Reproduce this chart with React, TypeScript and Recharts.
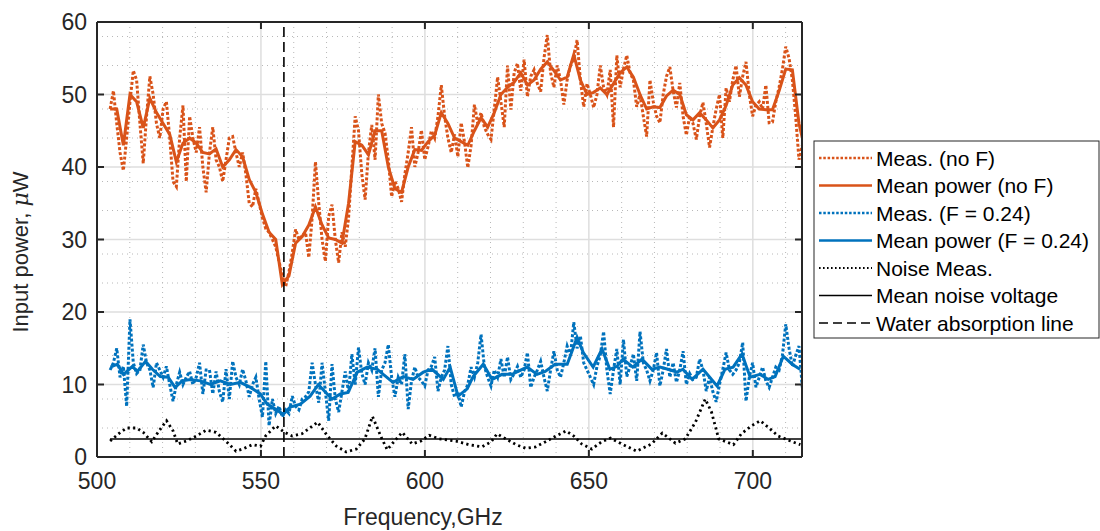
import React from "react"
import {
  LineChart,
  Line,
  XAxis,
  YAxis,
  CartesianGrid,
  ReferenceLine,
} from "recharts"

// measured spectra, one sample per step starting at measStartGHz
const measStartGHz = 504
const measStepGHz = 1.01

const measNoF = [
  48, 50.5, 46, 42, 39.5, 44, 49, 53.3, 52, 46,
  40.5, 47, 52.5, 50, 46, 44, 48, 49, 44, 38,
  37.3, 44, 48.5, 38, 47, 44, 42, 45.5, 40, 36.5,
  42, 45.5, 41, 40, 38, 41, 44, 44.2, 42, 40,
  42, 39, 35, 34.5, 37, 35, 33, 31.5, 31, 30,
  29, 27, 25, 23.5, 25.5, 28.2, 31.4, 30, 30.5, 31,
  27.5, 33, 40.7, 35, 30, 27, 33.2, 34.8, 30, 26.8,
  31, 29, 33, 40, 47, 45, 39, 35.5, 42, 45.8,
  41, 50, 46, 44.7, 41, 35.9, 38, 37, 35.2, 39,
  42, 45.5, 40, 42, 45.1, 41, 42.8, 45, 44, 47,
  51.3, 47, 44, 42, 44.5, 41.4, 46.1, 43.5, 39.9, 43,
  48.6, 46, 47.5, 45.5, 44.5, 43.8, 48, 52.4, 49, 45.5,
  54, 47.9, 53, 54.3, 50.5, 54.8, 49.7, 52.5, 53.4, 51.5,
  50.4, 55, 58.2, 53, 51, 54, 52, 48.6, 52, 54,
  55, 57.5, 52, 48.3, 51.5, 50, 48.2, 50, 54, 51,
  50, 53.4, 45.5, 55.4, 51, 53.5, 55.4, 53, 52, 48.3,
  50, 47, 44.2, 52, 49, 47, 46.1, 50, 52.5, 53.8,
  50.5, 48.2, 51.6, 47, 44.4, 47, 46, 43.8, 47, 48.9,
  46, 42.7, 45.5, 48, 50, 44, 50.9, 49, 52, 54,
  49.7, 52.5, 54.5, 50, 47, 48.5, 49, 48, 51.3, 46.1,
  46.2, 49, 51, 53.5, 56.6, 55, 52, 47, 41, 43,
]

const measF024 = [
  12, 13, 15, 11, 12.5, 7, 19, 13, 11.5, 12,
  15.5, 13, 12, 9.6, 13, 12, 11, 12.5, 10, 7.7,
  10, 11.7, 10, 11, 11.8, 10, 11, 13, 8.7, 12,
  12, 8.7, 11.8, 9, 7.6, 12.1, 8, 13.2, 11, 10,
  12.1, 10.5, 8.3, 10, 11, 8, 5.5, 13.2, 4.3, 8,
  6, 7, 5.5, 6.5, 6, 8.4, 7, 6.5, 8, 8.3,
  9, 13, 10, 7.5, 13, 9, 5, 12.8, 8, 6.2,
  9, 11.8, 9, 14.2, 10, 15.1, 11.5, 10, 13, 12,
  15, 8.3, 12, 13, 15.5, 11, 8.3, 11, 10, 14.2,
  6.6, 10.5, 12.4, 11, 10.5, 9.8, 12, 12.5, 13.8, 9.1,
  11, 12, 15.3, 10, 8.3, 9, 6.9, 9, 10, 12.4,
  11, 13, 16.9, 12.5, 11, 9.8, 12, 11, 13.5, 11,
  13.8, 10.7, 11.5, 12.5, 11, 12, 14.4, 9.6, 11, 12,
  13.2, 11, 9.1, 12, 14.6, 12, 11, 13, 15.3, 14,
  18.6, 15, 16.7, 13, 12, 11, 10, 12.5, 14, 17.3,
  12, 8.7, 12, 14.9, 10, 16.2, 11.1, 12.5, 14.2, 10.5,
  17.3, 13, 12, 10.5, 12, 14.4, 9.8, 12, 14.9, 11,
  13, 10.3, 12, 14.6, 10, 11.5, 10.7, 11, 13.5, 12,
  9.1, 11, 9, 7.6, 10, 12.1, 14.4, 12, 11.4, 12,
  13, 15.8, 7.7, 11, 13, 9.6, 11, 12.4, 10.5, 9.6,
  11, 12.4, 12, 14, 18.3, 15, 12.5, 14, 15.3, 9.6,
]

// mean power (no F), on every second measurement sample plus the last one
const meanNoF = [
  48, 48, 43, 50, 49, 45.4, 49.5, 47.5, 46, 44.5,
  40.7, 43.3, 44, 43.3, 42, 41.8, 42.5, 40, 41, 42.4,
  41.4, 38.3, 36.5, 33.5, 31, 30, 23.8, 25, 29.5, 30.4,
  32, 34.5, 32, 30.2, 30, 29.5, 35, 43.5, 43, 41.7,
  45, 45, 40, 37, 36.5, 40, 42.4, 42.3, 43.5, 44.4,
  47.5, 46, 44, 43.5, 43, 45, 46.8, 45.5, 47.5, 50,
  51, 51.7, 53, 51.3, 52, 53.5, 54.5, 53.3, 52, 52.4,
  55.5, 52, 50, 50.3, 50.9, 50, 51.5, 53, 53.8, 52.4,
  50, 48, 48.3, 48.2, 49.8, 50.6, 50, 47.2, 46.5, 47.5,
  46.5, 45.4, 46.5, 48.5, 51.3, 52.3, 51.3, 49, 48, 47.9,
  47.9, 50.5, 53.5, 53.4, 46, 44,
]

const meanF024Freq = [
  504.1, 506.2, 508.1, 510.8, 512.3, 514.8, 516.9, 519.3, 521.7, 523.8,
  526, 528.5, 531.5, 534.6, 537.6, 540.7, 543.7, 546.8, 549.8, 551.9,
  554.4, 556.8, 558.9, 562, 565, 567.5, 570.2, 571.7, 574.2, 576.6,
  579.4, 582.4, 585.5, 587.3, 590.3, 593.4, 596.4, 599.5, 602.2, 605.6,
  607.7, 610.1, 612.9, 614.7, 617.8, 620.5, 623.5, 626.6, 628.4, 631.2,
  634.2, 636.7, 639.7, 643.4, 646.4, 648.3, 651.3, 654, 656.4, 658.6,
  660.4, 663.4, 666.2, 669.2, 671.7, 674.1, 676.9, 678.7, 681.5, 684.8,
  689.1, 691.5, 694, 696.7, 699.2, 702.2, 704.7, 706.8, 709.3, 712, 714.4,
]
const meanF024 = [
  12.4, 12.8, 11.4, 12.5, 11.8, 13.2, 12.1, 11.1, 11, 9.6,
  10.5, 10.7, 10.5, 10, 10.5, 10, 10.3, 9.6, 8.7, 7.3,
  6.6, 5.9, 6.9, 7.3, 8.4, 10, 8.7, 8, 8.7, 8.9,
  11.7, 12.4, 12.1, 11.4, 10.3, 11.1, 10.7, 11.7, 12.1, 10.7,
  12.4, 8.4, 9.4, 11.1, 12.8, 10.7, 11.4, 11.4, 11.8, 12.4,
  11.4, 11.8, 12.8, 12.8, 16.5, 14.4, 12.4, 14.9, 12.1, 12.5,
  13.5, 12.4, 13.5, 12.1, 12.4, 12.1, 11.7, 12.1, 10.7, 12.1,
  9.8, 12.1, 12.4, 14.2, 11, 11.4, 10.7, 11.1, 13.9, 12.8, 12.1,
]

const noiseFreq = [
  504, 507.1, 509.1, 512.1, 514.1, 516.7, 518.6, 521.2, 523.2, 524.6,
  527.2, 530.3, 533.3, 536.3, 539.3, 542.4, 544.4, 547.4, 549.9, 551.4,
  554.5, 557.2, 559.5, 562.5, 567.3, 570.3, 573, 576, 579.1, 581.7,
  584, 586.7, 588.5, 591.3, 593.1, 596.1, 598.8, 601.3, 604.4, 609.5,
  613.4, 617.4, 620.2, 622, 624.7, 627.8, 630.8, 633.8, 636.8, 640,
  643, 645.4, 647.8, 650.9, 653.9, 656.6, 660, 664.6, 669.1, 672.4,
  676.4, 679.4, 682.5, 685.5, 687.4, 689.6, 694.1, 696.5, 699.6, 702.3,
  704.7, 707.7, 711.5, 714.5,
]
const noiseMeas = [
  2.2, 3.4, 4, 4, 3.4, 2.1, 3.4, 5, 3.6, 1.8,
  2.2, 2.9, 3.7, 3.4, 2.2, 0.8, 1.1, 1.7, 1.5, 2.9,
  4.3, 3.4, 2.9, 3.2, 4.8, 2.9, 1.5, 0.7, 1.1, 2.5,
  5.6, 2.7, 1, 2.5, 3.4, 1.8, 2.2, 3, 2.5, 2.2,
  1.7, 1.4, 2.1, 3.2, 2.5, 1.7, 1.2, 1.4, 2.1, 2.9,
  3.6, 2.9, 1.8, 1.1, 2.1, 2.6, 1.8, 0.8, 1.8, 3.3,
  1.9, 2.5, 4.8, 8, 6.2, 2.5, 1.7, 3.2, 4.3, 5,
  4.1, 2.9, 2.2, 1.7,
]

const meanNoiseLevel = 2.5
const meanNoiseRange = [504, 715]
const waterLineGHz = 557

const xTicks = [500, 550, 600, 650, 700]
const yTicks = [0, 10, 20, 30, 40, 50, 60]
const minorXTicks = [510, 520, 530, 540, 560, 570, 580, 590, 610, 620, 630, 640, 660, 670, 680, 690, 710]
const minorYTicks = [2, 4, 6, 8, 12, 14, 16, 18, 22, 24, 26, 28, 32, 34, 36, 38, 42, 44, 46, 48, 52, 54, 56, 58]

const ORANGE = "#D95319"
const BLUE = "#0072BD"
const AXIS = "#262626"
const FONT = "'Liberation Sans', Arial, Helvetica, sans-serif"
const MEAS_DASH = "3 2"
const NOISE_DASH = "2.2 3.3"

const measFreq = measNoF.map((_, i) => +(measStartGHz + i * measStepGHz).toFixed(2))
const measNoFData = measNoF.map((v, i) => ({ f: measFreq[i], v }))
const measF024Data = measF024.map((v, i) => ({ f: measFreq[i], v }))
const meanNoFData = meanNoF.map((v, i) => ({
  f: measFreq[i === meanNoF.length - 1 ? measFreq.length - 1 : i * 2],
  v,
}))
const meanF024Data = meanF024.map((v, i) => ({ f: meanF024Freq[i], v }))
const noiseData = noiseMeas.map((v, i) => ({ f: noiseFreq[i], v }))
const meanNoiseData = meanNoiseRange.map((f) => ({ f, v: meanNoiseLevel }))

const legendItems = [
  { label: "Meas. (no F)", color: ORANGE, dash: "2.5 1.8", width: 2.6 },
  { label: "Mean power (no F)", color: ORANGE, dash: undefined, width: 2.6 },
  { label: "Meas. (F = 0.24)", color: BLUE, dash: "2.5 1.8", width: 2.6 },
  { label: "Mean power (F = 0.24)", color: BLUE, dash: undefined, width: 2.6 },
  { label: "Noise Meas.", color: "#000", dash: "1.6 2.4", width: 2 },
  { label: "Mean noise voltage", color: "#000", dash: undefined, width: 1.3 },
  { label: "Water absorption line", color: "#000", dash: "9 5", width: 1.3 },
]

function Legend() {
  return (
    <svg
      width={287}
      height={199}
      style={{ position: "absolute", left: 813, top: 140 }}
    >
      <rect x={1} y={1} width={285} height={197} fill="#fff" stroke={AXIS} strokeWidth={1} />
      {legendItems.map((item, i) => {
        const cy = 18 + i * 27.5
        return (
          <g key={item.label}>
            <line
              x1={6}
              x2={59}
              y1={cy}
              y2={cy}
              stroke={item.color}
              strokeWidth={item.width}
              strokeDasharray={item.dash}
            />
            <text
              x={63}
              y={cy}
              dominantBaseline="central"
              fontSize={21}
              fontFamily={FONT}
              fill="#000"
            >
              {item.label}
            </text>
          </g>
        )
      })}
    </svg>
  )
}

function AxisLabels() {
  return (
    <svg
      width={1100}
      height={531}
      style={{ position: "absolute", left: 0, top: 0, pointerEvents: "none" }}
    >
      <text
        x={423}
        y={525}
        textAnchor="middle"
        fontSize={23}
        fontFamily={FONT}
        fill={AXIS}
      >
        Frequency,GHz
      </text>
      <text
        transform="translate(28 252) rotate(-90)"
        textAnchor="middle"
        fontSize={22}
        fontFamily={FONT}
        fill={AXIS}
      >
        Input power,{" "}
        <tspan fontStyle="italic" fontFamily="'DejaVu Serif', serif">
          μ
        </tspan>
        W
      </text>
    </svg>
  )
}

const tickStyle = { fontSize: 23, fill: AXIS, fontFamily: FONT }
const axisLineStyle = { stroke: AXIS, strokeWidth: 2 }
const tickLineStyle = { stroke: AXIS, strokeWidth: 2 }

export default function App() {
  return (
    <div style={{ position: "absolute", left: 0, top: 0, width: 1100, height: 531, background: "#fff" }}>
      <LineChart
        width={1100}
        height={531}
        margin={{ top: 21, right: 297, left: 37, bottom: 34 }}
      >
        <CartesianGrid
          horizontalValues={minorYTicks}
          verticalValues={minorXTicks}
          stroke="#b8b8b8"
          strokeDasharray="1 4"
          strokeWidth={1}
        />
        <CartesianGrid stroke="#dedede" strokeWidth={1.5} />
        <XAxis
          type="number"
          dataKey="f"
          domain={[500, 715]}
          ticks={xTicks}
          allowDataOverflow
          height={40}
          tick={tickStyle}
          tickSize={-7}
          tickMargin={23}
          axisLine={axisLineStyle}
          tickLine={tickLineStyle}
        />
        <XAxis
          xAxisId="top"
          orientation="top"
          type="number"
          dataKey="f"
          domain={[500, 715]}
          ticks={xTicks}
          allowDataOverflow
          height={1}
          tick={() => null}
          tickSize={-7}
          axisLine={axisLineStyle}
          tickLine={tickLineStyle}
        />
        <YAxis
          type="number"
          domain={[0, 60]}
          ticks={yTicks}
          allowDataOverflow
          width={60}
          tick={tickStyle}
          tickSize={-7}
          tickMargin={17}
          axisLine={axisLineStyle}
          tickLine={tickLineStyle}
        />
        <YAxis
          yAxisId="right"
          orientation="right"
          type="number"
          domain={[0, 60]}
          ticks={yTicks}
          allowDataOverflow
          width={1}
          tick={() => null}
          tickSize={-7}
          axisLine={axisLineStyle}
          tickLine={tickLineStyle}
        />
        <Line
          data={measNoFData}
          dataKey="v"
          stroke={ORANGE}
          strokeWidth={3}
          strokeDasharray={MEAS_DASH}
          dot={false}
          isAnimationActive={false}
        />
        <Line
          data={meanNoFData}
          dataKey="v"
          stroke={ORANGE}
          strokeWidth={3}
          dot={false}
          isAnimationActive={false}
        />
        <Line
          data={measF024Data}
          dataKey="v"
          stroke={BLUE}
          strokeWidth={3}
          strokeDasharray={MEAS_DASH}
          dot={false}
          isAnimationActive={false}
        />
        <Line
          data={meanF024Data}
          dataKey="v"
          stroke={BLUE}
          strokeWidth={3}
          dot={false}
          isAnimationActive={false}
        />
        <Line
          data={noiseData}
          dataKey="v"
          stroke="#000"
          strokeWidth={2.8}
          strokeDasharray={NOISE_DASH}
          dot={false}
          isAnimationActive={false}
        />
        <Line
          data={meanNoiseData}
          dataKey="v"
          stroke="#000"
          strokeWidth={1.5}
          dot={false}
          isAnimationActive={false}
        />
        <ReferenceLine
          x={waterLineGHz}
          stroke="#000"
          strokeWidth={1.6}
          strokeDasharray="10 5"
        />
      </LineChart>
      <AxisLabels />
      <Legend />
    </div>
  )
}
